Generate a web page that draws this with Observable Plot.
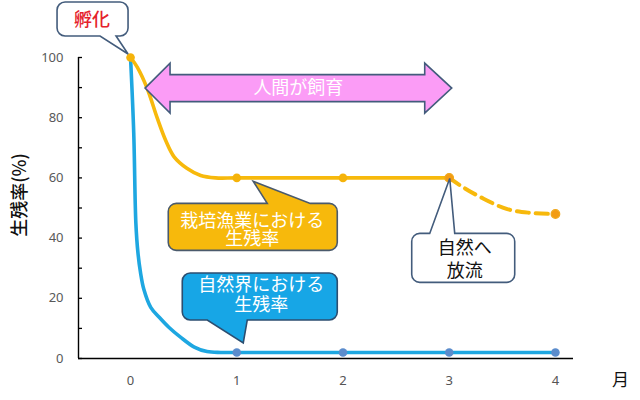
<!DOCTYPE html>
<html>
<head>
<meta charset="utf-8">
<script src="https://cdn.jsdelivr.net/npm/d3@7"></script>
<script src="https://cdn.jsdelivr.net/npm/@observablehq/plot@0.6"></script>
<style>
  body { margin: 0; background: #fff; }
  #chart svg { display: block; }
</style>
</head>
<body>
<div id="chart"></div>
<script>
// ---- data ----
const months = [0, 1, 2, 3, 4];
const monthLabels = ["0", "1", "2", "3", "4"];
const yTickValues = [0, 20, 40, 60, 80, 100];
const yMinorTicks = [0, 10, 20, 30, 40, 50, 60, 70, 80, 90, 100];
const xDomain = [-0.49, 4.17];

// cultured (栽培漁業) survival — solid part (hand raised)
const culturedX = [0, 0.063, 0.157, 0.25, 0.33, 0.41, 0.53, 0.66, 0.8, 1, 2, 3];
const culturedY = [100, 96.8, 89.7, 80, 72.5, 67, 63.2, 60.8, 60, 60, 60, 60];
// after release (dashed)
const releasedX = [3, 3.13, 3.29, 3.54, 3.76, 4];
const releasedY = [60, 56.9, 53.7, 49.7, 48.4, 48];
const culturedMarkerY = [100, 60, 60, 60, 48];

// wild (自然界) survival
const wildX = [0, 0.03, 0.05, 0.07, 0.094, 0.125, 0.19, 0.27, 0.36, 0.47, 0.6, 0.72, 0.85, 1, 2, 3, 4];
const wildY = [100, 75, 45, 35, 28.5, 23, 17, 13.7, 10.4, 7.1, 3.8, 2.3, 2, 2, 2, 2, 2];
const wildMarkerMonths = [1, 2, 3, 4];
const wildMarkerY = [2, 2, 2, 2];

// annotation texts
const hatchLabel = "孵化";
const raisingLabel = "人間が飼育";
const culturedLabel = ["栽培漁業における", "生残率"];
const wildLabel = ["自然界における", "生残率"];
const releaseLabel = ["自然へ", "放流"];
const yAxisLabel = "生残率(%)";
const xUnitLabel = "月";

// ---- tables ----
const cultured = culturedX.map((x, i) => ({x, y: culturedY[i]}));
const released = releasedX.map((x, i) => ({x, y: releasedY[i]}));
const culturedMarkers = months.map((m, i) => ({x: m, y: culturedMarkerY[i]}));
const wild = wildX.map((x, i) => ({x, y: wildY[i]}));
const wildMarkers = wildMarkerMonths.map((m, i) => ({x: m, y: wildMarkerY[i]}));

const FONT = "'Noto Sans CJK JP', 'Noto Sans', sans-serif";
const ORANGE = "#f7b90c";
const BLUE = "#1ea7e1";

// rounded box with a pointer on top or bottom edge
function calloutPath(x0, y0, x1, y1, r, side, b0, b1, tx, ty) {
  let p = `M${x0 + r},${y0}`;
  if (side === "top") p += `L${b0},${y0}L${tx},${ty}L${b1},${y0}`;
  p += `L${x1 - r},${y0}A${r},${r} 0 0 1 ${x1},${y0 + r}`;
  p += `L${x1},${y1 - r}A${r},${r} 0 0 1 ${x1 - r},${y1}`;
  if (side === "bottom") p += `L${b1},${y1}L${tx},${ty}L${b0},${y1}`;
  p += `L${x0 + r},${y1}A${r},${r} 0 0 1 ${x0},${y1 - r}`;
  p += `L${x0},${y0 + r}A${r},${r} 0 0 1 ${x0 + r},${y0}Z`;
  return p;
}

function annotations(index, scales) {
  const {x, y} = scales;
  const g = d3.create("svg:g").attr("font-family", FONT);
  // multi-line text as one <text> element with tspans
  const addText = (lines, cx, cy, lh, fill, size, weight) => {
    const t = g.append("text")
      .attr("text-anchor", "middle")
      .attr("font-size", size).attr("font-weight", weight || 400)
      .attr("fill", fill);
    lines.forEach((s, i) => {
      t.append("tspan").attr("x", cx).attr("y", cy + i * lh)
        .attr("dy", "0.35em").text(s);
    });
  };

  // 孵化 callout, pointing at hatch point
  {
    const ax = x(0), ay = y(100);
    g.append("path").attr("d", calloutPath(ax - 73, ay - 55, ax - 2, ay - 21, 8, "bottom", ax - 30, ax - 14, ax - 2, ay - 3))
      .attr("fill", "#fff").attr("stroke", "#435c7c").attr("stroke-width", 1.6);
    addText([hatchLabel], ax - 38, ay - 37, 0, "#e5222b", 18, 500);
  }

  // 人間が飼育 double arrow from month 0 to 3
  {
    const xl = x(0) + 15, xr = x(3) + 3, cy = y(90) + 1;
    const hl = 25, hr = 27, hh = 25, bh = 13.5;
    const d = `M${xl},${cy}L${xl + hl},${cy - hh}L${xl + hl},${cy - bh}L${xr - hr},${cy - bh}L${xr - hr},${cy - hh}` +
      `L${xr},${cy}L${xr - hr},${cy + hh}L${xr - hr},${cy + bh}L${xl + hl},${cy + bh}L${xl + hl},${cy + hh}Z`;
    g.append("path").attr("d", d).attr("fill", "#fb9cf6").attr("stroke", "#435c7c").attr("stroke-width", 1.6);
    addText([raisingLabel], (xl + xr) / 2, cy, 0, "#fff", 18, 400);
  }

  // 栽培漁業 callout, pointing at month 1 of the cultured curve
  {
    const ax = x(1), ay = y(60);
    g.append("path").attr("d", calloutPath(ax - 68, ay + 26, ax + 101, ay + 73, 8, "top", ax + 31, ax + 74, ax + 17, ay + 4))
      .attr("fill", ORANGE).attr("stroke", "#4a5a6c").attr("stroke-width", 1.6);
    addText(culturedLabel, ax + 16, ay + 43, 18.5, "#fff", 18, 400);
  }

  // 自然界 callout, pointing at month 1 of the wild curve
  {
    const ax = x(1), ay = y(2);
    g.append("path").attr("d", calloutPath(ax - 54, ay - 79, ax + 101, ay - 32, 8, "bottom", ax - 29, ax + 11, ax + 7, ay - 9))
      .attr("fill", "#17a6e6").attr("stroke", "#2c4e70").attr("stroke-width", 1.6);
    addText(wildLabel, ax + 25, ay - 67, 20, "#fff", 18, 400);
  }

  // 自然へ放流 callout, pointing at month 3 (release)
  {
    const ax = x(3), ay = y(60);
    g.append("path").attr("d", calloutPath(ax - 37, ay + 56, ax + 66, ay + 105, 8, "top", ax - 19, ax + 6, ax + 1, ay + 1))
      .attr("fill", "#fff").attr("stroke", "#435c7c").attr("stroke-width", 1.6);
    addText(releaseLabel, ax + 16, ay + 70, 23, "#111", 18, 400);
  }
  return g.node();
}

const chart = Plot.plot({
  width: 640,
  height: 400,
  marginLeft: 78,
  marginRight: 67,
  marginTop: 57,
  marginBottom: 42,
  style: {fontFamily: FONT, background: "#fff"},
  x: {domain: xDomain},
  y: {domain: [0, 100]},
  marks: [
    // inward minor ticks on the y axis
    Plot.axisY({ticks: yMinorTicks, tickSize: -4, tickFormat: () => "", stroke: "#000", strokeWidth: 1.3, label: null}),
    Plot.axisY({ticks: yTickValues, tickSize: 0, tickPadding: 15, fill: "#595959", fontSize: 13, label: null, fontFamily: "'Noto Sans', sans-serif"}),
    Plot.axisX({ticks: months, tickSize: 0, tickPadding: 17, tickFormat: (d) => monthLabels[months.indexOf(d)], fill: "#555", fontSize: 13, label: null, fontFamily: "'Noto Sans', sans-serif"}),
    Plot.ruleX([xDomain[0]], {stroke: "#000", strokeWidth: 1.4}),
    Plot.ruleY([0], {stroke: "#000", strokeWidth: 1.4}),
    Plot.text([yAxisLabel], {frameAnchor: "left", rotate: -90, dx: -58, dy: -13, fontSize: 18, fontWeight: 500, fill: "#111", textAnchor: "middle", lineAnchor: "middle"}),
    Plot.text([xUnitLabel], {frameAnchor: "bottom-right", dx: 47, dy: 22, fontSize: 17, fill: "#111", textAnchor: "middle", lineAnchor: "middle"}),
    // wild curve
    Plot.line(wild, {x: "x", y: "y", stroke: BLUE, strokeWidth: 3.6, curve: "catmull-rom"}),
    Plot.dot(wildMarkers, {x: "x", y: "y", r: 4.3, fill: "#5b8ccc"}),
    // cultured curve
    Plot.line(released, {x: "x", y: "y", stroke: ORANGE, strokeWidth: 4, strokeDasharray: "12,7", curve: "catmull-rom"}),
    Plot.line(cultured, {x: "x", y: "y", stroke: ORANGE, strokeWidth: 3.6, curve: "catmull-rom"}),
    Plot.dot(culturedMarkers, {x: "x", y: "y", r: 4.3, fill: (d) => d.x >= 3 ? "#f39c14" : "#f5b30a", stroke: (d) => d.x >= 3 ? "#f0a81c" : "none", strokeWidth: 1.2}),
    annotations
  ]
});
document.getElementById("chart").appendChild(chart);
</script>
</body>
</html>
